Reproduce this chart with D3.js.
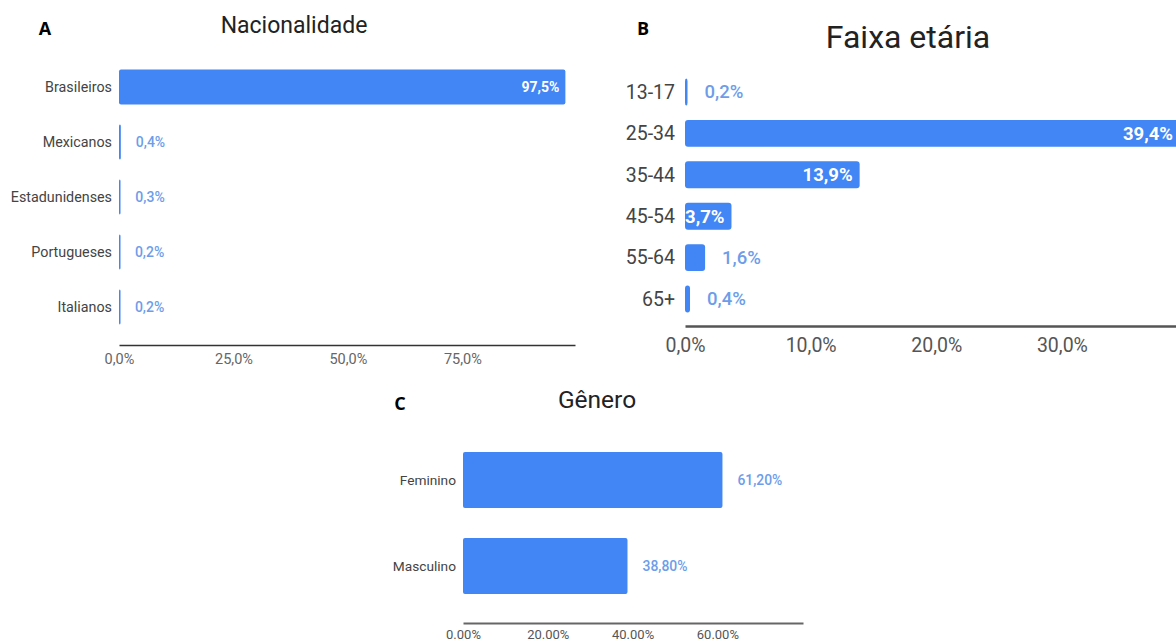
<!DOCTYPE html>
<html>
<head>
<meta charset="utf-8">
<script src="https://cdn.jsdelivr.net/npm/d3@7"></script>
<style>
  body { margin: 0; background: #fff; }
  text { font-family: Roboto, "Noto Sans", sans-serif; }
</style>
</head>
<body>
<div id="plot"></div>
<script>
// Painel A: nacionalidade
var nacCategorias = ["Brasileiros", "Mexicanos", "Estadunidenses", "Portugueses", "Italianos"];
var nacValores = [97.5, 0.4, 0.3, 0.2, 0.2];
var nacTicks = [0, 25, 50, 75];

// Painel B: faixa etaria
var idadeCategorias = ["13-17", "25-34", "35-44", "45-54", "55-64", "65+"];
var idadeValores = [0.2, 39.4, 13.9, 3.7, 1.6, 0.4];
var idadeTicks = [0, 10, 20, 30];

// Painel C: genero
var generoCategorias = ["Feminino", "Masculino"];
var generoValores = [61.2, 38.8];
var generoTicks = [0, 20, 40, 60];

var blue = "#4285f4",
	outLabel = "#6d9de9";

var ptBR = d3.formatLocale({decimal: ",", thousands: ".", grouping: [3], currency: ["R$", ""]});
var fmt1 = function(v){ return ptBR.format(".1f")(v) + "%"; };
var fmt2 = function(v){ return ptBR.format(".2f")(v) + "%"; };
var fmtDot2 = function(v){ return d3.format(".2f")(v) + "%"; };

var svg = d3.select("#plot")
	.append("svg")
	.attr("width", 1176)
	.attr("height", 643);

// Draw one horizontal bar panel.
function panel(o){
	var g = svg.append("g");
	var data = o.cats.map(function(c, i){ return {cat: c, value: o.vals[i]}; });

	var x = d3.scaleLinear().domain(o.domain).range([o.x0, o.x1]);
	var y = d3.scaleBand().domain(o.cats).range(o.yRange).paddingInner(o.pad).paddingOuter(o.pad / 2);

	// axis
	var ax = g.append("g")
		.attr("transform", "translate(0," + o.axisY + ")")
		.call(d3.axisBottom(x).tickValues(o.ticks).tickSize(0).tickPadding(o.tickPad).tickFormat(o.tickFmt));
	ax.select(".domain").attr("stroke", o.axisColor).attr("stroke-width", o.axisW);
	ax.selectAll("text")
		.style("font-size", o.tickSize + "px")
		.style("font-family", "Roboto, sans-serif")
		.attr("fill", o.tickColor);

	// bars
	g.selectAll("rect.bar")
		.data(data)
		.enter().append("rect")
			.attr("class", "bar")
			.attr("x", x(0))
			.attr("y", function(d){ return y(d.cat); })
			.attr("width", function(d){ return Math.max(1.5, x(d.value) - x(0)); })
			.attr("height", y.bandwidth())
			.attr("rx", o.rx)
			.attr("fill", blue);

	// category labels
	g.selectAll("text.cat")
		.data(data)
		.enter().append("text")
			.attr("class", "cat")
			.attr("x", x(0) - o.catGap)
			.attr("y", function(d){ return y(d.cat) + y.bandwidth() / 2; })
			.attr("dy", "0.35em")
			.attr("text-anchor", "end")
			.style("font-size", o.catSize + "px")
			.attr("fill", "#444")
			.text(function(d){ return d.cat; });

	// value labels
	g.selectAll("text.val")
		.data(data)
		.enter().append("text")
			.attr("class", "val")
			.attr("y", function(d){ return y(d.cat) + y.bandwidth() / 2; })
			.attr("dy", "0.35em")
			.style("font-size", o.valSize + "px")
			.style("font-weight", function(d){ return d.value >= o.inside ? "bold" : "500"; })
			.attr("fill", function(d){ return d.value >= o.inside ? "#fff" : outLabel; })
			.attr("text-anchor", function(d){ return d.value >= o.inside ? "end" : "start"; })
			.attr("x", function(d){ return d.value >= o.inside ? x(d.value) - o.inGap : x(d.value) + o.valGap; })
			.text(function(d){ return o.valFmt(d.value); });

	// title and letter
	g.append("text")
		.attr("x", o.titleX).attr("y", o.titleY)
		.attr("text-anchor", "middle")
		.style("font-size", o.titleSize + "px")
		.attr("fill", "#222")
		.text(o.title);
	g.append("text")
		.attr("x", o.letterX).attr("y", o.letterY)
		.attr("text-anchor", "middle")
		.style("font-family", "'Open Sans', 'Liberation Sans', sans-serif")
		.style("font-weight", "bold")
		.style("font-size", "18px")
		.attr("fill", "#000")
		.text(o.letter);
}

panel({
	cats: nacCategorias, vals: nacValores, ticks: nacTicks, domain: [0, 99.6],
	x0: 119, x1: 575, yRange: [59.5, 334.5], pad: 0.36, axisY: 345,
	axisColor: "#333", axisW: 1.5, tickPad: 9, tickSize: 14.5, tickColor: "#666", tickFmt: fmt1,
	rx: 2, catGap: 7, catSize: 14.3, valSize: 14, valGap: 15, inGap: 6, inside: 10, valFmt: fmt1,
	title: "Nacionalidade", titleX: 294, titleY: 33, titleSize: 23,
	letter: "A", letterX: 45, letterY: 35
});

panel({
	cats: idadeCategorias, vals: idadeValores, ticks: idadeTicks, domain: [0, 39.4],
	x0: 685, x1: 1180, yRange: [71.3, 319.7], pad: 0.35, axisY: 326,
	axisColor: "#555", axisW: 2.5, tickPad: 12, tickSize: 19.5, tickColor: "#555", tickFmt: fmt1,
	rx: 3, catGap: 10, catSize: 19.5, valSize: 18.5, valGap: 17, inGap: 7, inside: 3, valFmt: fmt1,
	title: "Faixa etária", titleX: 908, titleY: 48, titleSize: 32,
	letter: "B", letterX: 643, letterY: 35
});

panel({
	cats: generoCategorias, vals: generoValores, ticks: generoTicks, domain: [0, 80.2],
	x0: 463, x1: 803, yRange: [437, 609], pad: 0.35, axisY: 623,
	axisColor: "#666", axisW: 2, tickPad: 7, tickSize: 13, tickColor: "#555", tickFmt: fmtDot2,
	rx: 2, catGap: 7, catSize: 13.7, valSize: 13.9, valGap: 15, inGap: 6, inside: 100, valFmt: fmt2,
	title: "Gênero", titleX: 597, titleY: 408, titleSize: 24.5,
	letter: "C", letterX: 400, letterY: 410
});
</script>
</body>
</html>
